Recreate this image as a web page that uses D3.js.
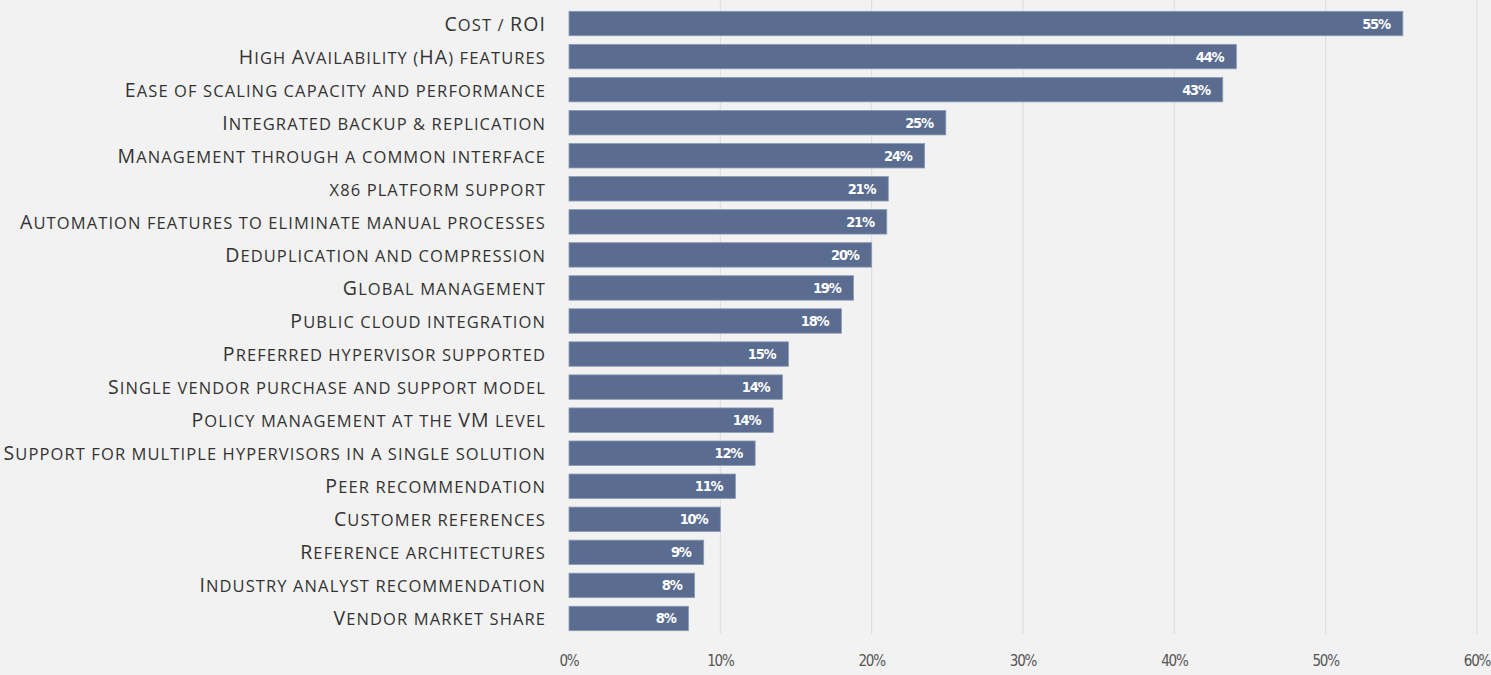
<!DOCTYPE html>
<html>
<head>
<meta charset="utf-8">
<script src="https://cdn.jsdelivr.net/npm/d3@7"></script>
<style>
  html, body { margin: 0; padding: 0; background: #f2f2f2; }
  svg { display: block; }
</style>
</head>
<body>
<div id="chart"></div>
<script>
const categories = [
    "Cost / ROI",
    "High Availability (HA) features",
    "Ease of scaling capacity and performance",
    "Integrated backup & replication",
    "Management through a common interface",
    "x86 platform support",
    "Automation features to eliminate manual processes",
    "Deduplication and compression",
    "Global management",
    "Public cloud integration",
    "Preferred hypervisor supported",
    "Single vendor purchase and support model",
    "Policy management at the VM level",
    "Support for multiple hypervisors in a single solution",
    "Peer recommendation",
    "Customer references",
    "Reference architectures",
    "Industry analyst recommendation",
    "Vendor market share"
];
// bar length (share of respondents, %)
const values = [55.1, 44.1, 43.2, 24.9, 23.5, 21.1, 21.0, 20.0, 18.8, 18.0, 14.5, 14.1, 13.5, 12.3, 11.0, 10.0, 8.9, 8.3, 7.9];
// printed labels
const valueLabels = ["55%", "44%", "43%", "25%", "24%", "21%", "21%", "20%", "19%", "18%", "15%", "14%", "14%", "12%", "11%", "10%", "9%", "8%", "8%"];
const ticks = [0, 10, 20, 30, 40, 50, 60];

const width = 1491, height = 675;
const margin = {top: 8, right: 14, bottom: 41, left: 569};

const svg = d3.select("#chart")
    .append("svg")
    .attr("width", width)
    .attr("height", height);

const x = d3.scaleLinear()
    .domain([0, 60])
    .range([margin.left, width - margin.right]);

const y = d3.scaleBand()
    .domain(categories)
    .range([margin.top, height - margin.bottom])
    .paddingInner(0.26)
    .paddingOuter(0.1);

// gridlines
svg.append("g")
    .selectAll("line")
    .data(ticks.filter(t => t > 0))
    .enter()
    .append("line")
    .attr("x1", d => x(d))
    .attr("x2", d => x(d))
    .attr("y1", 0)
    .attr("y2", height - margin.bottom)
    .attr("stroke", "#dcdcdc")
    .attr("stroke-width", 1);

// bars
svg.append("g")
    .selectAll("rect")
    .data(values)
    .enter()
    .append("rect")
    .attr("x", x(0))
    .attr("y", (d, i) => y(categories[i]))
    .attr("width", d => x(d) - x(0))
    .attr("height", y.bandwidth())
    .attr("fill", "#5a6d91")
    .attr("stroke", "#8c9bb5")
    .attr("stroke-width", 0.8);

// value labels inside bars
svg.append("g")
    .selectAll("text")
    .data(values)
    .enter()
    .append("text")
    .attr("x", d => x(d) - 13)
    .attr("y", (d, i) => y(categories[i]) + y.bandwidth() / 2 + 1)
    .attr("text-anchor", "end")
    .attr("dominant-baseline", "middle")
    .style("font-family", "'DejaVu Sans Condensed', 'DejaVu Sans', sans-serif")
    .style("font-stretch", "condensed")
    .style("font-weight", "bold")
    .style("font-size", "14.5px")
    .style("letter-spacing", "-1.2px")
    .style("fill", "#ffffff")
    .text((d, i) => valueLabels[i]);

// category labels, small caps built from two sizes of capitals
const capRuns = s => s.split(/([A-Z]+)/).filter(p => p.length);

const labels = svg.append("g")
    .selectAll("text")
    .data(categories)
    .enter()
    .append("text")
    .attr("x", margin.left - 23)
    .attr("y", d => y(d) + y.bandwidth() / 2 + 7)
    .attr("text-anchor", "end")
    .style("font-family", "'Open Sans', sans-serif")
    .style("letter-spacing", "1.1px")
    .style("fill", "#333333");

labels.selectAll("tspan")
    .data(d => capRuns(d))
    .enter()
    .append("tspan")
    .style("font-size", p => /^[A-Z]+$/.test(p) ? "19.5px" : "16.5px")
    .style("text-transform", "uppercase")
    .text(p => p);

// x axis tick labels
svg.append("g")
    .selectAll("text")
    .data(ticks)
    .enter()
    .append("text")
    .attr("x", d => x(d))
    .attr("y", height - 9)
    .attr("text-anchor", "middle")
    .style("font-family", "'DejaVu Sans Condensed', 'DejaVu Sans', sans-serif")
    .style("font-stretch", "condensed")
    .style("font-size", "15px")
    .style("letter-spacing", "-1.2px")
    .style("fill", "#555555")
    .text(d => d + "%");
</script>
</body>
</html>
